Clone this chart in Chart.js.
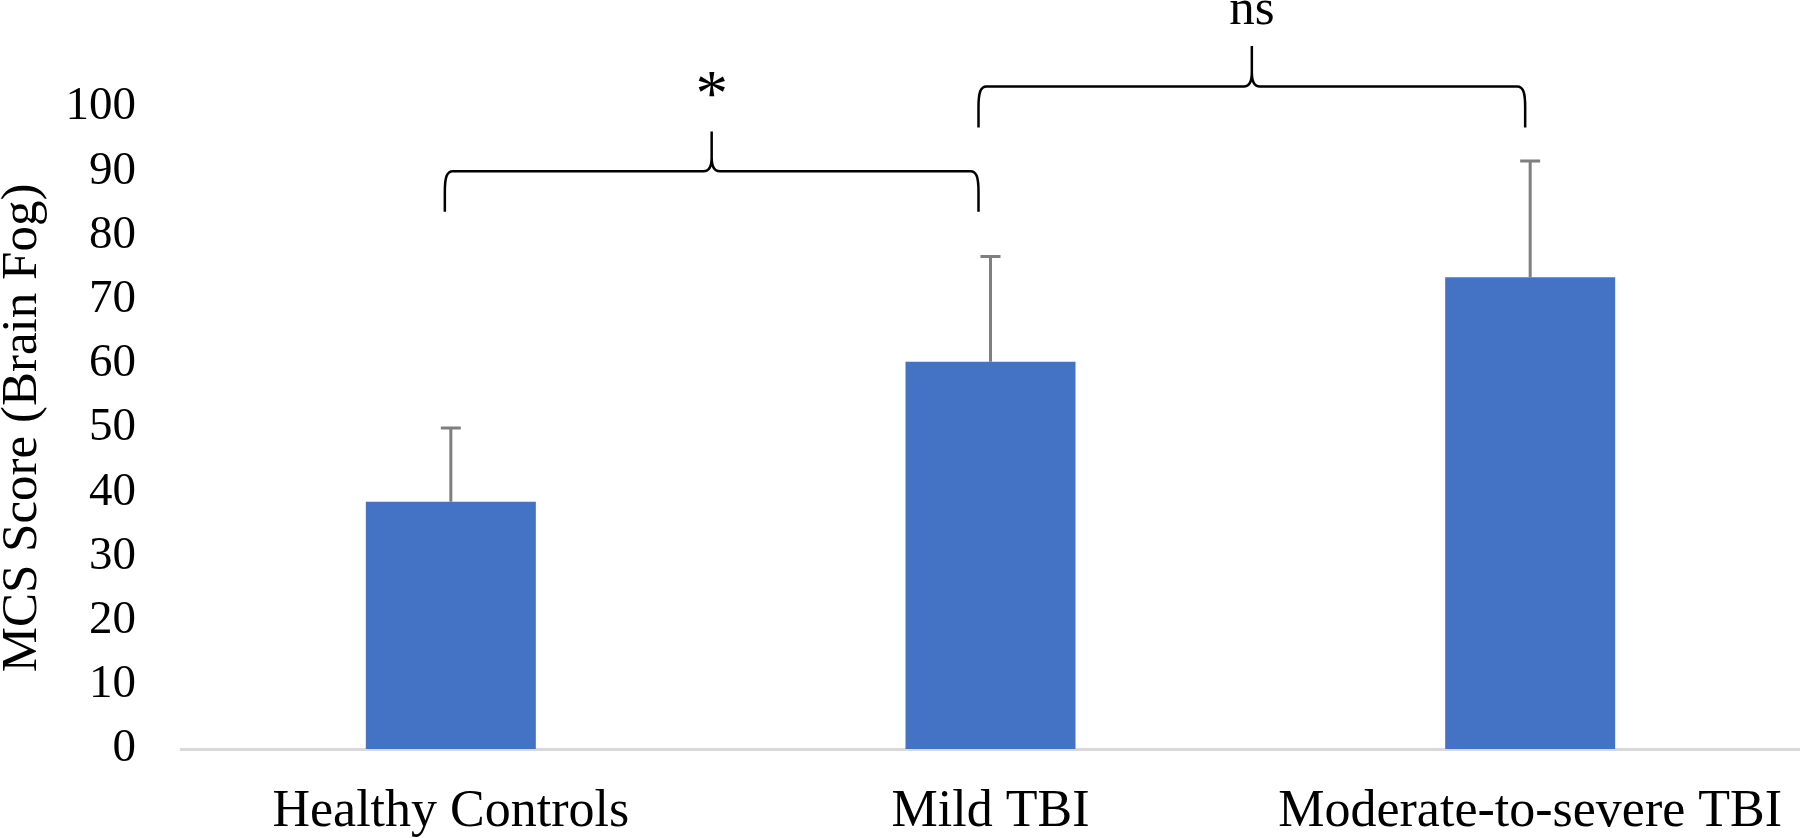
<!DOCTYPE html>
<html>
<head>
<meta charset="utf-8">
<script src="https://cdn.jsdelivr.net/npm/chart.js@4.4.0/dist/chart.umd.min.js"></script>
<style>
  html, body { margin: 0; padding: 0; background: #ffffff; }
  #wrap { width: 1800px; height: 838px; position: relative; }
</style>
</head>
<body>
<div id="wrap"><canvas id="c" width="1800" height="838"></canvas></div>
<script>
// ---- data ----
const categories = ['Healthy Controls', 'Mild TBI', 'Moderate-to-severe TBI'];
const meanScores = [38.5, 60.3, 73.5];
const errorScores = [11.5, 16.4, 18.1];
const yTickValues = [0, 10, 20, 30, 40, 50, 60, 70, 80, 90, 100];
// significance brackets between groups
const bracketFrom = [0, 1];
const bracketTo = [1, 2];
const bracketLabels = ['*', 'ns'];

const FONT = "'Liberation Serif', 'Times New Roman', serif";

const errorBarPlugin = {
  id: 'errorBars',
  afterDatasetsDraw(chart) {
    const ctx = chart.ctx;
    const y = chart.scales.y;
    const meta = chart.getDatasetMeta(0);
    ctx.save();
    ctx.strokeStyle = '#7f7f7f';
    ctx.lineWidth = 3;
    meta.data.forEach((bar, i) => {
      const x = bar.x;
      const y0 = y.getPixelForValue(meanScores[i]);
      const y1 = y.getPixelForValue(meanScores[i] + errorScores[i]);
      ctx.beginPath();
      ctx.moveTo(x, y0);
      ctx.lineTo(x, y1);
      ctx.moveTo(x - 10, y1);
      ctx.lineTo(x + 10, y1);
      ctx.stroke();
    });
    ctx.restore();
  }
};

// bracket geometry (value-units on y scale)
const bracketGeom = [
  { end: 83.7, bar: 90.0, tip: 96.2, text: 98.8, size: 65, dx1: -6, dx2: -12 },
  { end: 96.8, bar: 103.2, tip: 109.5, text: 112.9, size: 51, dx1: -12, dx2: -5 }
];

function drawBrace(ctx, x1, x2, yEnd, yBar, yTip) {
  const xm = (x1 + x2) / 2;
  const r = 8;
  ctx.beginPath();
  ctx.moveTo(x1, yEnd);
  ctx.lineTo(x1, yBar + (yEnd - yBar) * 0.5);
  ctx.bezierCurveTo(x1, yBar + 6, x1 + 2, yBar, x1 + r, yBar);
  ctx.lineTo(xm - r, yBar);
  ctx.bezierCurveTo(xm - 3, yBar, xm, yBar - 4, xm, yBar - 14);
  ctx.lineTo(xm, yTip);
  ctx.moveTo(xm, yBar - 14);
  ctx.bezierCurveTo(xm, yBar - 4, xm + 3, yBar, xm + r, yBar);
  ctx.lineTo(x2 - r, yBar);
  ctx.bezierCurveTo(x2 - 2, yBar, x2, yBar + 6, x2, yBar + (yEnd - yBar) * 0.5);
  ctx.lineTo(x2, yEnd);
  ctx.stroke();
}

const bracketPlugin = {
  id: 'brackets',
  afterDraw(chart) {
    const ctx = chart.ctx;
    const y = chart.scales.y;
    const meta = chart.getDatasetMeta(0);
    ctx.save();
    ctx.strokeStyle = '#000000';
    ctx.lineWidth = 2.5;
    ctx.lineJoin = 'round';
    ctx.fillStyle = '#000000';
    ctx.textAlign = 'center';
    ctx.textBaseline = 'alphabetic';
    bracketFrom.forEach((a, k) => {
      const g = bracketGeom[k];
      const x1 = meta.data[a].x + g.dx1;
      const x2 = meta.data[bracketTo[k]].x + g.dx2;
      drawBrace(ctx, x1, x2, y.getPixelForValue(g.end), y.getPixelForValue(g.bar), y.getPixelForValue(g.tip));
      ctx.font = g.size + 'px ' + FONT;
      ctx.fillText(bracketLabels[k], (x1 + x2) / 2, y.getPixelForValue(g.text));
    });
    ctx.restore();
  }
};

new Chart(document.getElementById('c'), {
  type: 'bar',
  data: {
    labels: categories,
    datasets: [{
      data: meanScores,
      backgroundColor: '#4472C4',
      borderWidth: 0,
      barPercentage: 0.315,
      categoryPercentage: 1.0
    }]
  },
  options: {
    responsive: false,
    animation: false,
    devicePixelRatio: 1,
    layout: { autoPadding: false, padding: { top: 107, right: 0, left: 0, bottom: 0 } },
    plugins: { legend: { display: false }, tooltip: { enabled: false } },
    scales: {
      x: {
        grid: { display: false, drawTicks: false },
        border: { display: true, color: '#d9d9d9', width: 3 },
        ticks: { color: '#000000', font: { family: FONT, size: 52, lineHeight: 1 }, padding: 37, maxRotation: 0 },
        afterFit(s) { s.height = 89; s.paddingLeft = 0; s.paddingRight = 0; }
      },
      y: {
        min: 0, max: 100,
        afterBuildTicks(s) { s.ticks = yTickValues.map(v => ({ value: v })); },
        grid: { display: false, drawTicks: false },
        border: { display: false },
        ticks: { color: '#000000', font: { family: FONT, size: 47, lineHeight: 1 }, padding: 45 },
        title: { display: true, text: 'MCS Score (Brain Fog)', color: '#000000', font: { family: FONT, size: 51, lineHeight: 1 }, padding: { top: -3, bottom: 0 } },
        afterFit(s) { s.width = 181; s.paddingTop = 0; s.paddingBottom = 0; }
      }
    }
  },
  plugins: [errorBarPlugin, bracketPlugin]
});
</script>
</body>
</html>
